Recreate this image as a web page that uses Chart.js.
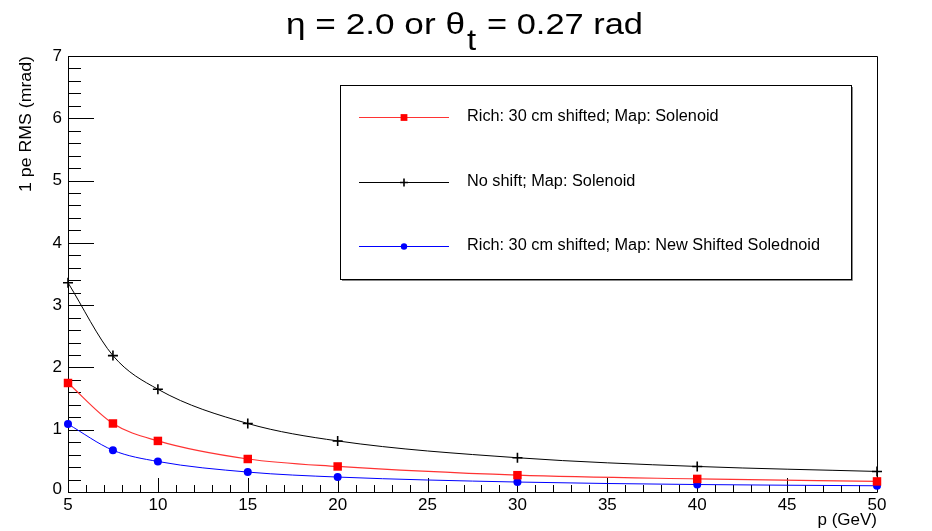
<!DOCTYPE html>
<html>
<head>
<meta charset="utf-8">
<title>1 pe RMS vs p</title>
<script src="https://cdn.jsdelivr.net/npm/chart.js@4.4.1/dist/chart.umd.min.js"></script>
<style>
  html, body { margin: 0; padding: 0; background: #ffffff; }
  #wrap { width: 932px; height: 531px; position: relative; }
  canvas { display: block; }
</style>
</head>
<body>
<div id="wrap"><canvas id="rms" width="932" height="531"></canvas></div>
<script>
// Momentum points (GeV) and the single-photoelectron angular RMS (mrad) per configuration
const momenta = [5, 7.5, 10, 15, 20, 30, 40, 50];
const richShiftedSolenoid = [1.75, 1.10, 0.82, 0.53, 0.41, 0.27, 0.21, 0.17];
const noShiftSolenoid = [3.36, 2.19, 1.65, 1.10, 0.82, 0.55, 0.41, 0.33];
const richShiftedNewMap = [1.09, 0.67, 0.49, 0.32, 0.24, 0.16, 0.12, 0.10];

const seriesLabels = [
  'Rich: 30 cm shifted; Map: Solenoid',
  'No shift; Map: Solenoid',
  'Rich: 30 cm shifted; Map: New Shifted Solednoid'
];

const xTickValues = [5, 10, 15, 20, 25, 30, 35, 40, 45, 50];
const xTickLabels = ['5', '10', '15', '20', '25', '30', '35', '40', '45', '50'];
const yTickValues = [0, 1, 2, 3, 4, 5, 6, 7];
const yTickLabels = ['0', '1', '2', '3', '4', '5', '6', '7'];

const titleMain = 'η = 2.0 or θ';
const titleSub = 't';
const titleTail = '= 0.27 rad';
const xTitle = 'p (GeV)';
const yTitle = '1 pe RMS (mrad)';

const FONT = '"Liberation Sans", Arial, Helvetica, sans-serif';

function toPoints(values) {
  return momenta.map((p, i) => ({ x: p, y: values[i] }));
}

// Draw text squeezed or stretched horizontally so it spans the given width
function fitText(ctx, text, x, y, width) {
  const w = ctx.measureText(text).width;
  const sx = width / w;
  ctx.save();
  ctx.translate(x, y);
  ctx.scale(sx, 1);
  ctx.fillText(text, 0, 0);
  ctx.restore();
}

// Axis frame with inward ticks, tick labels, axis titles
const frameAxes = {
  id: 'frameAxes',
  beforeDatasetsDraw(chart) {
    const ctx = chart.ctx;
    const { left, right, top, bottom } = chart.chartArea;
    const xs = chart.scales.x;
    const ys = chart.scales.y;
    ctx.save();
    ctx.strokeStyle = '#000';
    ctx.lineWidth = 1;
    ctx.beginPath();
    ctx.rect(Math.round(left) + 0.5, Math.round(top) + 0.5, Math.round(right - left), Math.round(bottom - top));
    ctx.stroke();

    // y ticks: major every 1, minor every 0.2
    ctx.beginPath();
    for (let k = 0; k <= 35; k++) {
      const v = k * 0.2;
      const py = Math.round(ys.getPixelForValue(v)) + 0.5;
      const len = (k % 5 === 0) ? 26 : 13;
      ctx.moveTo(left, py);
      ctx.lineTo(left + len, py);
    }
    // x ticks: major every 5, minor every 1
    for (let v = 5; v <= 50; v++) {
      const px = Math.round(xs.getPixelForValue(v)) + 0.5;
      const len = (v % 5 === 0) ? 14 : 7;
      ctx.moveTo(px, bottom);
      ctx.lineTo(px, bottom - len);
    }
    ctx.stroke();

    ctx.fillStyle = '#000';
    ctx.font = '17px ' + FONT;
    // y tick labels
    ctx.textAlign = 'right';
    ctx.textBaseline = 'middle';
    yTickValues.forEach((v, i) => {
      let py = ys.getPixelForValue(v);
      if (v === 0) py -= 3;
      ctx.fillText(yTickLabels[i], left - 6, py);
    });
    // x tick labels
    ctx.textAlign = 'center';
    ctx.textBaseline = 'alphabetic';
    xTickValues.forEach((v, i) => {
      ctx.fillText(xTickLabels[i], xs.getPixelForValue(v), bottom + 18);
    });
    // x title, right aligned at the end of the axis
    ctx.textAlign = 'right';
    ctx.fillText(xTitle, right, bottom + 33);

    // y title, rotated, aligned to the top of the axis
    ctx.font = '16px ' + FONT;
    ctx.save();
    ctx.translate(31, top);
    ctx.rotate(-Math.PI / 2);
    ctx.textAlign = 'left';
    ctx.textBaseline = 'alphabetic';
    fitText(ctx, yTitle, -136, 0, 136);
    ctx.restore();
    ctx.restore();
  },
  afterDraw(chart) {
    const ctx = chart.ctx;
    ctx.save();
    ctx.fillStyle = '#000';
    // Title with subscript
    ctx.font = '30px ' + FONT;
    ctx.textAlign = 'left';
    ctx.textBaseline = 'alphabetic';
    fitText(ctx, titleMain, 286, 34, 179);
    ctx.save();
    ctx.translate(467, 50);
    ctx.scale(1.1, 1);
    ctx.fillText(titleSub, 0, 0);
    ctx.restore();
    fitText(ctx, titleTail, 487, 34, 156);

    // Legend box
    const bx = 340, by = 85, bw = 511, bh = 194;
    ctx.fillStyle = '#fff';
    ctx.fillRect(bx, by, bw, bh);
    ctx.strokeStyle = '#000';
    ctx.lineWidth = 1;
    ctx.strokeRect(bx + 0.5, by + 0.5, bw, bh);
    ctx.strokeStyle = '#888';
    ctx.beginPath();
    ctx.moveTo(bx + bw + 1.5, by + 2);
    ctx.lineTo(bx + bw + 1.5, by + bh + 1.5);
    ctx.lineTo(bx + 2, by + bh + 1.5);
    ctx.stroke();

    const rows = [117, 182, 246];
    ctx.font = '16px ' + FONT;
    const refW = ctx.measureText(seriesLabels[2]).width;
    const sx = 353 / refW;
    chart.data.datasets.forEach((ds, i) => {
      const y = rows[i];
      ctx.strokeStyle = ds.borderColor;
      ctx.lineWidth = ds.borderWidth;
      ctx.beginPath();
      ctx.moveTo(359, y + 0.5);
      ctx.lineTo(449, y + 0.5);
      ctx.stroke();
      ctx.fillStyle = ds.pointBackgroundColor;
      ctx.strokeStyle = ds.pointBorderColor;
      ctx.lineWidth = ds.pointBorderWidth;
      Chart.helpers.drawPoint(ctx, {
        pointStyle: ds.pointStyle,
        radius: ds.pointRadius * 0.8,
        rotation: 0,
        borderWidth: ds.pointBorderWidth
      }, 404, y + 0.5);
      ctx.fillStyle = '#000';
      ctx.textAlign = 'left';
      ctx.textBaseline = 'middle';
      ctx.save();
      ctx.translate(467, y);
      ctx.scale(sx, 1);
      ctx.fillText(seriesLabels[i], 0, 0);
      ctx.restore();
    });
    ctx.restore();
  }
};

const whiteBackground = {
  id: 'whiteBackground',
  beforeDraw(chart) {
    const ctx = chart.ctx;
    ctx.save();
    ctx.fillStyle = '#fff';
    ctx.fillRect(0, 0, chart.width, chart.height);
    ctx.restore();
  }
};

new Chart(document.getElementById('rms'), {
  type: 'line',
  data: {
    datasets: [
      {
        label: seriesLabels[0],
        data: toPoints(richShiftedSolenoid),
        borderColor: '#ff3333',
        borderWidth: 1.2,
        pointStyle: 'rect',
        pointRadius: 6,
        pointBackgroundColor: '#ff0000',
        pointBorderColor: '#ff0000',
        pointBorderWidth: 0,
        cubicInterpolationMode: 'monotone',
        clip: false
      },
      {
        label: seriesLabels[1],
        data: toPoints(noShiftSolenoid),
        borderColor: '#000000',
        borderWidth: 1,
        pointStyle: 'cross',
        pointRadius: 5,
        pointBackgroundColor: '#000000',
        pointBorderColor: '#000000',
        pointBorderWidth: 1.6,
        cubicInterpolationMode: 'monotone',
        clip: false
      },
      {
        label: seriesLabels[2],
        data: toPoints(richShiftedNewMap),
        borderColor: '#0000ff',
        borderWidth: 1,
        pointStyle: 'circle',
        pointRadius: 4,
        pointBackgroundColor: '#0000ff',
        pointBorderColor: '#0000ff',
        pointBorderWidth: 0,
        cubicInterpolationMode: 'monotone',
        clip: false
      }
    ]
  },
  options: {
    responsive: false,
    devicePixelRatio: 1,
    animation: false,
    layout: { padding: { left: 68, top: 56, right: 55, bottom: 39 } },
    scales: {
      x: { type: 'linear', min: 5, max: 50, display: false },
      y: { type: 'linear', min: 0, max: 7, display: false }
    },
    plugins: {
      legend: { display: false },
      tooltip: { enabled: false },
      title: { display: false }
    }
  },
  plugins: [whiteBackground, frameAxes]
});
</script>
</body>
</html>
